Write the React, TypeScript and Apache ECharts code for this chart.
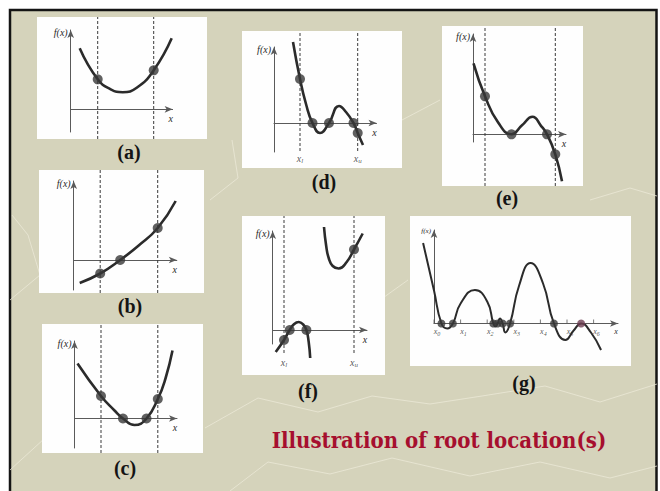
import { useEffect, useRef } from 'react';
import * as echarts from 'echarts';

type P = [number, number];

// ---------- data (each panel in its own units) ----------
// (a)
const curveA: P[] = [[9, 61], [27, 30], [40, 20], [52, 17], [66, 21.5], [83, 39], [101, 71]];
const dotsA: P[] = [[27, 30], [83, 39]];
const bracketsA = [27, 83];

// (b)
const curveB: P[] = [[6, -23], [26.5, -13.5], [46.5, 0], [65, 14.5], [84, 32], [102, 59]];
const dotsB: P[] = [[26.5, -13.5], [46.5, 0], [84, 32]];
const bracketsB = [26.5, 84];

// (c)
const curveC: P[] = [[3, 55], [26.5, 22.5], [40, 8], [48.5, 0], [60, -6.5], [72, 0], [83.3, 19.5], [91, 40], [98, 68]];
const dotsC: P[] = [[26.5, 22.5], [48.5, 0], [72, 0], [83.3, 19.5]];
const bracketsC = [26.5, 83.3];

// (d)
const curveD: P[] = [[19, 81], [26, 44], [32, 19], [38.5, 0], [46, -10], [55, 0], [65, 17], [72, 11], [79.5, 0], [83.7, -10], [89, -22]];
const dotsD: P[] = [[26, 44], [38.5, 0], [55, 0], [79.5, 0], [83.7, -10]];
const bracketsD = [26, 83.7];
const bracketNamesD = ['l', 'u'];

// (e)
const curveE: P[] = [[0.5, 71], [12, 38], [25, 12], [38.5, 0], [49, 9], [59.5, 17.5], [68, 8.5], [74, 0], [82.3, -20], [89, -47]];
const dotsE: P[] = [[12, 38], [38.5, 0], [74, 0], [82.3, -20]];
const bracketsE = [12, 82.3];

// (f)
const curveF1: P[] = [[3, -22], [11.3, -10], [17, 0], [21, 5.5], [26, 8], [30.5, 5.5], [33.7, 0], [36, -12], [37.5, -28]];
const curveF2: P[] = [[51.3, 103], [53.5, 84], [56, 72], [60, 64], [66, 61.5], [74, 68], [81.3, 80.5], [90, 96.5]];
const dotsF: P[] = [[11.3, -10], [17, 0], [33.7, 0], [81.3, 80.5]];
const bracketsF = [11.3, 81.3];
const bracketNamesF = ['l', 'u'];

// (g)
const curveG: P[] = [[-0.41, 80.5], [0.0, 33], [0.28, 0], [0.5, -5], [0.71, 0], [1.0, 20], [1.54, 33.5], [2.0, 22], [2.23, 0], [2.31, -3], [2.39, 0], [2.48, 5], [2.58, 0], [2.68, -9], [2.86, 0], [3.2, 38], [3.63, 60.5], [4.1, 40], [4.51, 0], [4.94, -16.5], [5.25, -7], [5.53, 0], [5.9, -9], [6.28, -26.5]];
const dotsG: P[] = [[0.28, 0], [0.71, 0], [2.23, 0], [2.39, 0], [2.58, 0], [2.86, 0], [4.51, 0]];
const touchG: P[] = [[5.53, 0]];
const ticksG = [0, 1, 2, 3, 4, 5, 6];
const tickNamesG = ['0', '1', '2', '3', '4', '5', '6'];

const TITLE = 'Illustration of root location(s)';

// ---------- layout ----------
interface Panel {
  name: string;
  rect: [number, number, number, number];
  ox: number; oy: number; top: number; bottom: number; right: number; unit: number;
  dash?: [number, number]; sub?: number; label: [number, number]; small?: boolean;
  curves: P[][]; dots: P[]; brackets: number[]; bracketNames?: string[];
}

const panels: Panel[] = [
  { name: '(a)', rect: [37, 17, 170, 122], ox: 70.7, oy: 109.3, top: 30, bottom: 132, right: 172.6, unit: 1, dash: [17, 139], label: [129, 152], curves: [curveA], dots: dotsA, brackets: bracketsA },
  { name: '(b)', rect: [39, 170, 165, 123], ox: 73.7, oy: 260, top: 181, bottom: 290, right: 176.8, unit: 1, dash: [170, 293], label: [130, 306], curves: [curveB], dots: dotsB, brackets: bracketsB },
  { name: '(c)', rect: [42, 324, 161, 129], ox: 74.5, oy: 418.5, top: 341, bottom: 448, right: 177, unit: 1, dash: [324, 453], label: [125, 468], curves: [curveC], dots: dotsC, brackets: bracketsC },
  { name: '(d)', rect: [242, 31, 160, 137], ox: 274, oy: 123, top: 47, bottom: 152, right: 376.5, unit: 1, dash: [31, 151], sub: 158, label: [324, 182], curves: [curveD], dots: dotsD, brackets: bracketsD, bracketNames: bracketNamesD },
  { name: '(e)', rect: [442, 26, 141, 160], ox: 473, oy: 134.3, top: 34, bottom: 142, right: 566, unit: 1, dash: [26, 186], label: [507, 198], curves: [curveE], dots: dotsE, brackets: bracketsE },
  { name: '(f)', rect: [242, 216, 143, 159], ox: 272.7, oy: 330, top: 231, bottom: 344, right: 367, unit: 1, dash: [216, 353], sub: 362, label: [308, 391], curves: [curveF1, curveF2], dots: dotsF, brackets: bracketsF, bracketNames: bracketNamesF },
  { name: '(g)', rect: [410, 216, 221, 150], ox: 434, oy: 323.5, top: 230, bottom: 323.5, right: 618, unit: 26.6, label: [524, 383], small: true, curves: [curveG], dots: dotsG, brackets: [] },
];

const SERIF = "'Liberation Serif', 'DejaVu Serif', serif";
const INK = '#2b2b2b';
const TEXT = '#2a2a2a';

const decoLines: P[][] = [
  [[10, 470], [45, 438], [95, 452], [140, 425]],
  [[205, 428], [258, 398], [318, 412], [372, 396], [430, 404]],
  [[430, 404], [482, 396], [545, 386], [600, 402], [657, 384]],
  [[230, 491], [268, 462], [330, 474], [392, 458], [470, 476], [540, 462], [610, 478], [657, 466]],
  [[10, 300], [40, 275], [28, 235], [12, 215]],
  [[210, 200], [238, 178], [232, 140]],
  [[402, 120], [440, 100]],
  [[590, 200], [630, 188], [657, 196]],
  [[380, 300], [408, 280]],
];

function buildOption() {
  const grid: any[] = [];
  const xAxis: any[] = [];
  const yAxis: any[] = [];
  const series: any[] = [];
  const graphic: any[] = [];

  graphic.push({
    type: 'rect', z: -10, silent: true,
    shape: { x: 10, y: 10, width: 646.5, height: 495 },
    style: { fill: '#d5d3bb', stroke: '#141414', lineWidth: 2.5 },
  });
  decoLines.forEach((pts) => {
    graphic.push({
      type: 'polyline', z: -9, silent: true,
      shape: { points: pts },
      style: { fill: null, stroke: 'rgba(236,234,216,0.75)', lineWidth: 1 },
    });
  });

  const axisLine = () => ({
    onZero: true, symbol: ['none', 'arrow'], symbolSize: [5, 8],
    lineStyle: { color: '#5a5a5a', width: 1 },
  });

  panels.forEach((p, i) => {
    const [rx, ry, rw, rh] = p.rect;
    graphic.push({
      type: 'rect', z: -8, silent: true,
      shape: { x: rx, y: ry, width: rw, height: rh },
      style: { fill: '#fefefe' },
    });
    graphic.push({
      type: 'text', z: 10,
      style: {
        text: p.name, x: p.label[0], y: p.label[1],
        align: 'center', verticalAlign: 'middle', textAlign: 'center', textVerticalAlign: 'middle',
        font: 'bold 20px ' + SERIF, fill: '#141414',
      },
    });

    grid.push({ left: p.ox, top: p.top, width: p.right - p.ox, height: p.bottom - p.top });
    xAxis.push({
      gridIndex: i, type: 'value', min: 0, max: (p.right - p.ox) / p.unit,
      axisLine: axisLine(), axisTick: { show: false }, axisLabel: { show: false }, splitLine: { show: false },
      name: 'x', nameLocation: 'end', nameGap: -2,
      nameTextStyle: {
        fontFamily: SERIF, fontStyle: 'italic', fontSize: p.small ? 8 : 10, color: TEXT,
        align: 'center', verticalAlign: 'top', padding: [4, 0, 0, 0],
      },
    });
    yAxis.push({
      gridIndex: i, type: 'value', min: -(p.bottom - p.oy), max: p.oy - p.top,
      axisLine: axisLine(), axisTick: { show: false }, axisLabel: { show: false }, splitLine: { show: false },
      name: 'f(x)', nameLocation: 'end', nameGap: 3,
      nameTextStyle: {
        fontFamily: SERIF, fontStyle: 'italic', fontSize: p.small ? 7 : 10, color: TEXT,
        align: 'right', verticalAlign: 'top', padding: [0, 3, 0, 0],
      },
    });
  });

  // hidden plotting grids: same scale as each panel's axes, widened to the left edge of its curves
  panels.forEach((p) => {
    let minX = 0;
    p.curves.forEach((c) => c.forEach((pt) => { if (pt[0] < minX) minX = pt[0]; }));
    const left = p.ox + minX * p.unit;
    grid.push({ left, top: p.top, width: p.right - left, height: p.bottom - p.top });
    const gi = grid.length - 1;
    xAxis.push({ gridIndex: gi, type: 'value', show: false, min: minX, max: (p.right - p.ox) / p.unit });
    yAxis.push({ gridIndex: gi, type: 'value', show: false, min: -(p.bottom - p.oy), max: p.oy - p.top });
  });
  const n = panels.length;

  panels.forEach((p, k) => {
    const i = k + n; // plotting grid index
    if (p.dash) {
      const d = p.dash;
      p.brackets.forEach((b) => {
        series.push({
          type: 'line', xAxisIndex: i, yAxisIndex: i, silent: true, clip: false,
          data: [[b, p.oy - d[1]], [b, p.oy - d[0]]], symbol: 'none', z: 2,
          lineStyle: { color: '#3a3a3a', width: 1, type: [3, 2] },
        });
      });
    }
    p.curves.forEach((c) => {
      series.push({
        type: 'line', xAxisIndex: i, yAxisIndex: i, silent: true, clip: false,
        data: c, smooth: 0.5, symbol: 'none', z: 3,
        lineStyle: { color: INK, width: p.small ? 2 : 2.6 },
      });
    });
    series.push({
      type: 'scatter', xAxisIndex: i, yAxisIndex: i, silent: true, clip: false,
      data: p.dots, symbolSize: p.small ? 8 : 10, z: 4,
      itemStyle: { color: '#383838' },
    });
    if (p.bracketNames && p.sub !== undefined) {
      const sub = p.sub;
      series.push({
        type: 'scatter', xAxisIndex: i, yAxisIndex: i, silent: true, clip: false, z: 5,
        data: p.bracketNames.map((nm, j) => ({ value: [p.brackets[j], p.oy - sub], name: nm })),
        symbolSize: 0,
        label: {
          show: true, position: 'inside', color: TEXT, formatter: (q: any) => `{v|x}{s|${q.name}}`,
          rich: {
            v: { fontFamily: SERIF, fontStyle: 'italic', fontSize: 10, color: TEXT },
            s: { fontFamily: SERIF, fontStyle: 'italic', fontSize: 7, color: TEXT, padding: [5, 0, 0, 0] },
          },
        },
      });
    }
  });

  // (g) extras: tangent root dot, ticks with x_i labels
  const gi = 2 * n - 1;
  series.push({
    type: 'scatter', xAxisIndex: gi, yAxisIndex: gi, silent: true, clip: false,
    data: touchG, symbolSize: 8, z: 4, itemStyle: { color: '#6e3f52' },
  });
  series.push({
    type: 'scatter', xAxisIndex: gi, yAxisIndex: gi, silent: true, clip: false, z: 3,
    data: ticksG.map((t, k) => ({ value: [t, 0], name: tickNamesG[k] })),
    symbol: 'rect', symbolSize: [1, 4], symbolOffset: [0, -2], itemStyle: { color: '#5a5a5a' },
    label: {
      show: true, position: 'bottom', distance: 3, offset: [3, 0], color: TEXT,
      formatter: (q: any) => `{v|x}{s|${q.name}}`,
      rich: {
        v: { fontFamily: SERIF, fontStyle: 'italic', fontSize: 8, color: TEXT },
        s: { fontFamily: SERIF, fontStyle: 'italic', fontSize: 6, color: TEXT, padding: [4, 0, 0, 0] },
      },
    },
  });

  graphic.push({
    type: 'text', z: 10,
    style: {
      text: TITLE, x: 439, y: 440,
      align: 'center', verticalAlign: 'middle', textAlign: 'center', textVerticalAlign: 'middle',
      font: "bold 22px 'DejaVu Serif Condensed', 'DejaVu Serif', serif", fill: '#a60f2e',
    },
  });

  return { animation: false, backgroundColor: '#ffffff', grid, xAxis, yAxis, series, graphic };
}

export default function App() {
  const ref = useRef<HTMLDivElement>(null);
  useEffect(() => {
    if (!ref.current) return;
    const chart = echarts.init(ref.current, undefined, { renderer: 'svg' });
    chart.setOption(buildOption() as any);
    return () => chart.dispose();
  }, []);
  return <div ref={ref} style={{ position: 'fixed', left: 0, top: 0, width: 660, height: 491 }} />;
}
